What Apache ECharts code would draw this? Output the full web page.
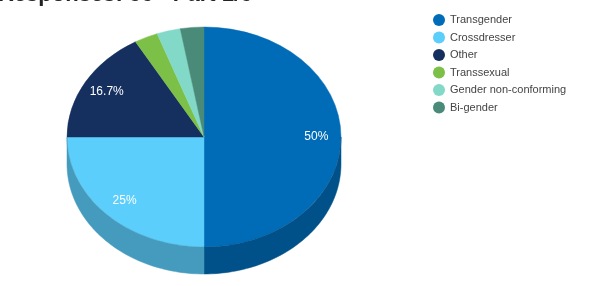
<!DOCTYPE html>
<html><head><meta charset="utf-8">
<script src="https://cdn.jsdelivr.net/npm/echarts@6/dist/echarts.min.js"></script>
<style>html,body{margin:0;padding:0;background:#fff}#c{width:592px;height:286px}</style>
</head><body><div id="c"></div>
<script>
var titleText = 'Responses: 36 - Part 1/6';
var categories = ['Transgender','Crossdresser','Other','Transsexual','Gender non-conforming','Bi-gender'];
var values = [18, 9, 6, 1, 1, 1];
var colors = ['#006cb7','#5bcefc','#15305f','#7cc048','#83d9c8','#4a8a78'];

var total = values.reduce(function(a,b){return a+b;},0);
var starts = [];
(function(){var c=0;for(var i=0;i<values.length;i++){starts.push(c);c+=values[i];}})();

function darken(hex,f){
  var n=parseInt(hex.slice(1),16);
  var r=Math.round(((n>>16)&255)*f),g=Math.round(((n>>8)&255)*f),b=Math.round((n&255)*f);
  return 'rgb('+r+','+g+','+b+')';
}
function fmtPct(v){var p=Math.round(v/total*1000)/10;return p+'%';}

var CX=204, CY=137, RX=137, RY=110, DEPTH=27;

function renderItem(params, api){
  var i = params.dataIndex;
  var v = api.value(0);
  var a0 = -Math.PI/2 + 2*Math.PI*starts[i]/total;
  var a1 = a0 + 2*Math.PI*v/total;
  var children = [];
  var ranges = [[0,Math.PI],[2*Math.PI,3*Math.PI],[-2*Math.PI,-Math.PI]];
  ranges.forEach(function(r){
    var s=Math.max(a0,r[0]), e=Math.min(a1,r[1]);
    if(e>s){
      var pts=[], n=60;
      for(var k=0;k<=n;k++){var t=s+(e-s)*k/n;pts.push([CX+RX*Math.cos(t),CY+RY*Math.sin(t)]);}
      for(var k2=n;k2>=0;k2--){var t2=s+(e-s)*k2/n;pts.push([CX+RX*Math.cos(t2),CY+RY*Math.sin(t2)+DEPTH]);}
      children.push({type:'polygon',z2:1,shape:{points:pts},style:{fill:darken(colors[i],0.75),stroke:darken(colors[i],0.75),lineWidth:0.5}});
    }
  });
  children.push({type:'group',x:CX,y:CY,scaleY:RY/RX,z2:2,children:[
    {type:'sector',shape:{cx:0,cy:0,r0:0,r:RX,startAngle:a0,endAngle:a1,clockwise:true},
     style:{fill:colors[i],stroke:colors[i],lineWidth:0.5}}
  ]});
  if(v/total>0.1){
    var m=(a0+a1)/2;
    children.push({type:'text',z2:3,x:CX+RX*0.82*Math.cos(m),y:CY+RY*0.82*Math.sin(m),
      style:{text:fmtPct(v),fill:'#fff',font:'12px "Liberation Sans", Arial, sans-serif',align:'center',verticalAlign:'middle'}});
  }
  return {type:'group',children:children};
}

var chart = echarts.init(document.getElementById('c'),null,{renderer:'canvas'});
chart.setOption({
  animation:false,
  backgroundColor:'#fff',
  title:{text:titleText,left:-7,top:-21,textStyle:{fontSize:22,fontWeight:'bold',color:'#222',fontFamily:'"Liberation Sans", Arial, sans-serif'}},
  legend:{orient:'vertical',left:428,top:9,icon:'circle',itemWidth:12,itemHeight:12,itemGap:5.5,
    textStyle:{fontSize:11,color:'#444',fontFamily:'"Liberation Sans", Arial, sans-serif'},
    data:categories, selectedMode:false},
  series:[
    {type:'custom',coordinateSystem:'none',renderItem:renderItem,silent:true,
     data:values.map(function(v,i){return {name:categories[i],value:[v]};})},
    {type:'pie',radius:[0,0],center:[-100,-100],silent:true,label:{show:false},labelLine:{show:false},
     data:values.map(function(v,i){return {name:categories[i],value:v,itemStyle:{color:colors[i]}};})}
  ]
});
</script></body></html>
